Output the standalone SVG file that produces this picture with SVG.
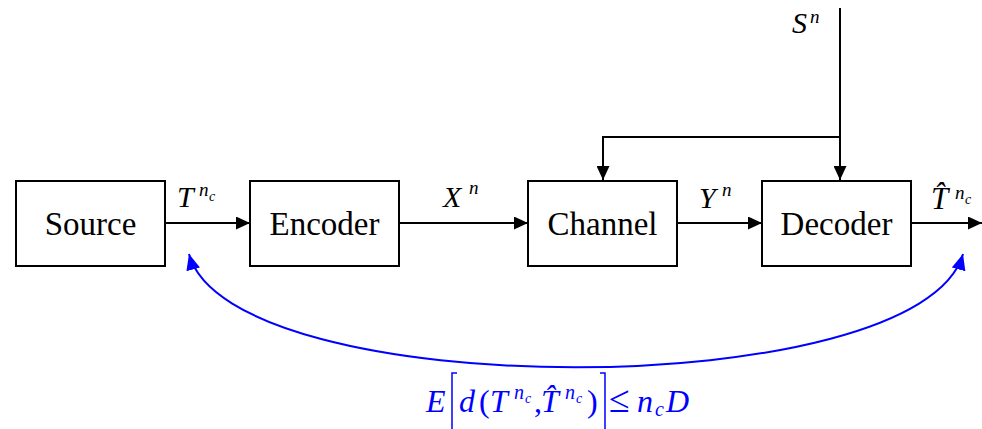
<svg xmlns="http://www.w3.org/2000/svg" width="982" height="429" viewBox="0 0 982 429">
<style>
.box{fill:#fff;stroke:#000;stroke-width:2}
.lbl{font-family:'Liberation Serif','DejaVu Serif',serif;font-size:33px;text-anchor:middle;fill:#000}
.m{font-family:'Liberation Serif','DejaVu Serif',serif;font-style:italic;fill:#000}
.r{font-family:'Liberation Serif','DejaVu Serif',serif}
.b{fill:#0000ff}
.ln{stroke:#000;stroke-width:2;fill:none}
</style>
<defs>
<marker id="ah" markerWidth="14" markerHeight="13" refX="14" refY="6.5" orient="auto" markerUnits="userSpaceOnUse">
<path d="M0,0 L14,6.5 L0,13 Z" fill="#000"/>
</marker>
<marker id="bh" markerWidth="16" markerHeight="14" refX="16" refY="7" orient="auto-start-reverse" markerUnits="userSpaceOnUse">
<path d="M0,0 L16,7 L0,14 Z" fill="#0000ff"/>
</marker>
</defs>
<g id="connectors">
<line class="ln" x1="165" y1="223" x2="250" y2="223" marker-end="url(#ah)"/>
<line class="ln" x1="399" y1="223" x2="528" y2="223" marker-end="url(#ah)"/>
<line class="ln" x1="677" y1="223" x2="762" y2="223" marker-end="url(#ah)"/>
<line class="ln" x1="911" y1="223" x2="982" y2="223" marker-end="url(#ah)"/>
<line class="ln" x1="840" y1="8" x2="840" y2="180" marker-end="url(#ah)"/>
<polyline class="ln" points="840,137 603,137 603,180" marker-end="url(#ah)"/>
<path d="M189,254 C230,405 920,405 963,254" fill="none" stroke="#0000ff" stroke-width="2" marker-start="url(#bh)" marker-end="url(#bh)"/>
</g>
<g id="source"><rect class="box" x="16" y="181" width="149" height="85"/><text class="lbl" x="90.5" y="235">Source</text></g>
<g id="encoder"><rect class="box" x="250" y="181" width="149" height="85"/><text class="lbl" x="324.5" y="235">Encoder</text></g>
<g id="channel"><rect class="box" x="528" y="181" width="149" height="85"/><text class="lbl" x="602.5" y="235">Channel</text></g>
<g id="decoder"><rect class="box" x="762" y="181" width="149" height="85"/><text class="lbl" x="836.5" y="235">Decoder</text></g>
<g id="labels">
<text class="m" x="177" y="207" font-size="30">T</text>
<text class="m" x="199" y="196" font-size="19">n</text>
<text class="m" x="209" y="201" font-size="14">c</text>
<text class="m" x="443" y="207" font-size="30">X</text>
<text class="m" x="469" y="194" font-size="19">n</text>
<text class="m" x="699" y="208" font-size="30">Y</text>
<text class="m" x="722" y="196" font-size="19">n</text>
<text class="m" x="792" y="33" font-size="30">S</text>
<text class="m" x="810" y="23" font-size="19">n</text>
<text class="m" x="931" y="209" font-size="31">T̂</text>
<text class="m" x="955" y="199" font-size="19">n</text>
<text class="m" x="965" y="204" font-size="14">c</text>
</g>
<g id="formula">
<text class="m b" x="426" y="412" font-size="32">E</text>
<path d="M457,373 L452,373 L452,429" fill="none" stroke="#0000ff" stroke-width="1.5"/>
<text class="m b" x="459" y="412" font-size="32">d</text>
<text class="r b" x="479" y="412" font-size="32">(</text>
<text class="m b" x="490" y="412" font-size="32">T</text>
<text class="m b" x="514" y="399" font-size="20">n</text>
<text class="m b" x="525" y="403" font-size="14">c</text>
<text class="r b" x="534" y="412" font-size="32">,</text>
<text class="m b" x="541" y="412" font-size="32">T̂</text>
<text class="m b" x="565" y="399" font-size="20">n</text>
<text class="m b" x="576" y="403" font-size="14">c</text>
<text class="r b" x="587" y="412" font-size="32">)</text>
<path d="M600,373 L605,373 L605,429" fill="none" stroke="#0000ff" stroke-width="1.5"/>
<text class="r b" x="609" y="412" font-size="38">≤</text>
<text class="m b" x="637" y="412" font-size="32">n</text>
<text class="m b" x="655" y="416" font-size="20">c</text>
<text class="m b" x="666" y="412" font-size="32">D</text>
</g>
</svg>
